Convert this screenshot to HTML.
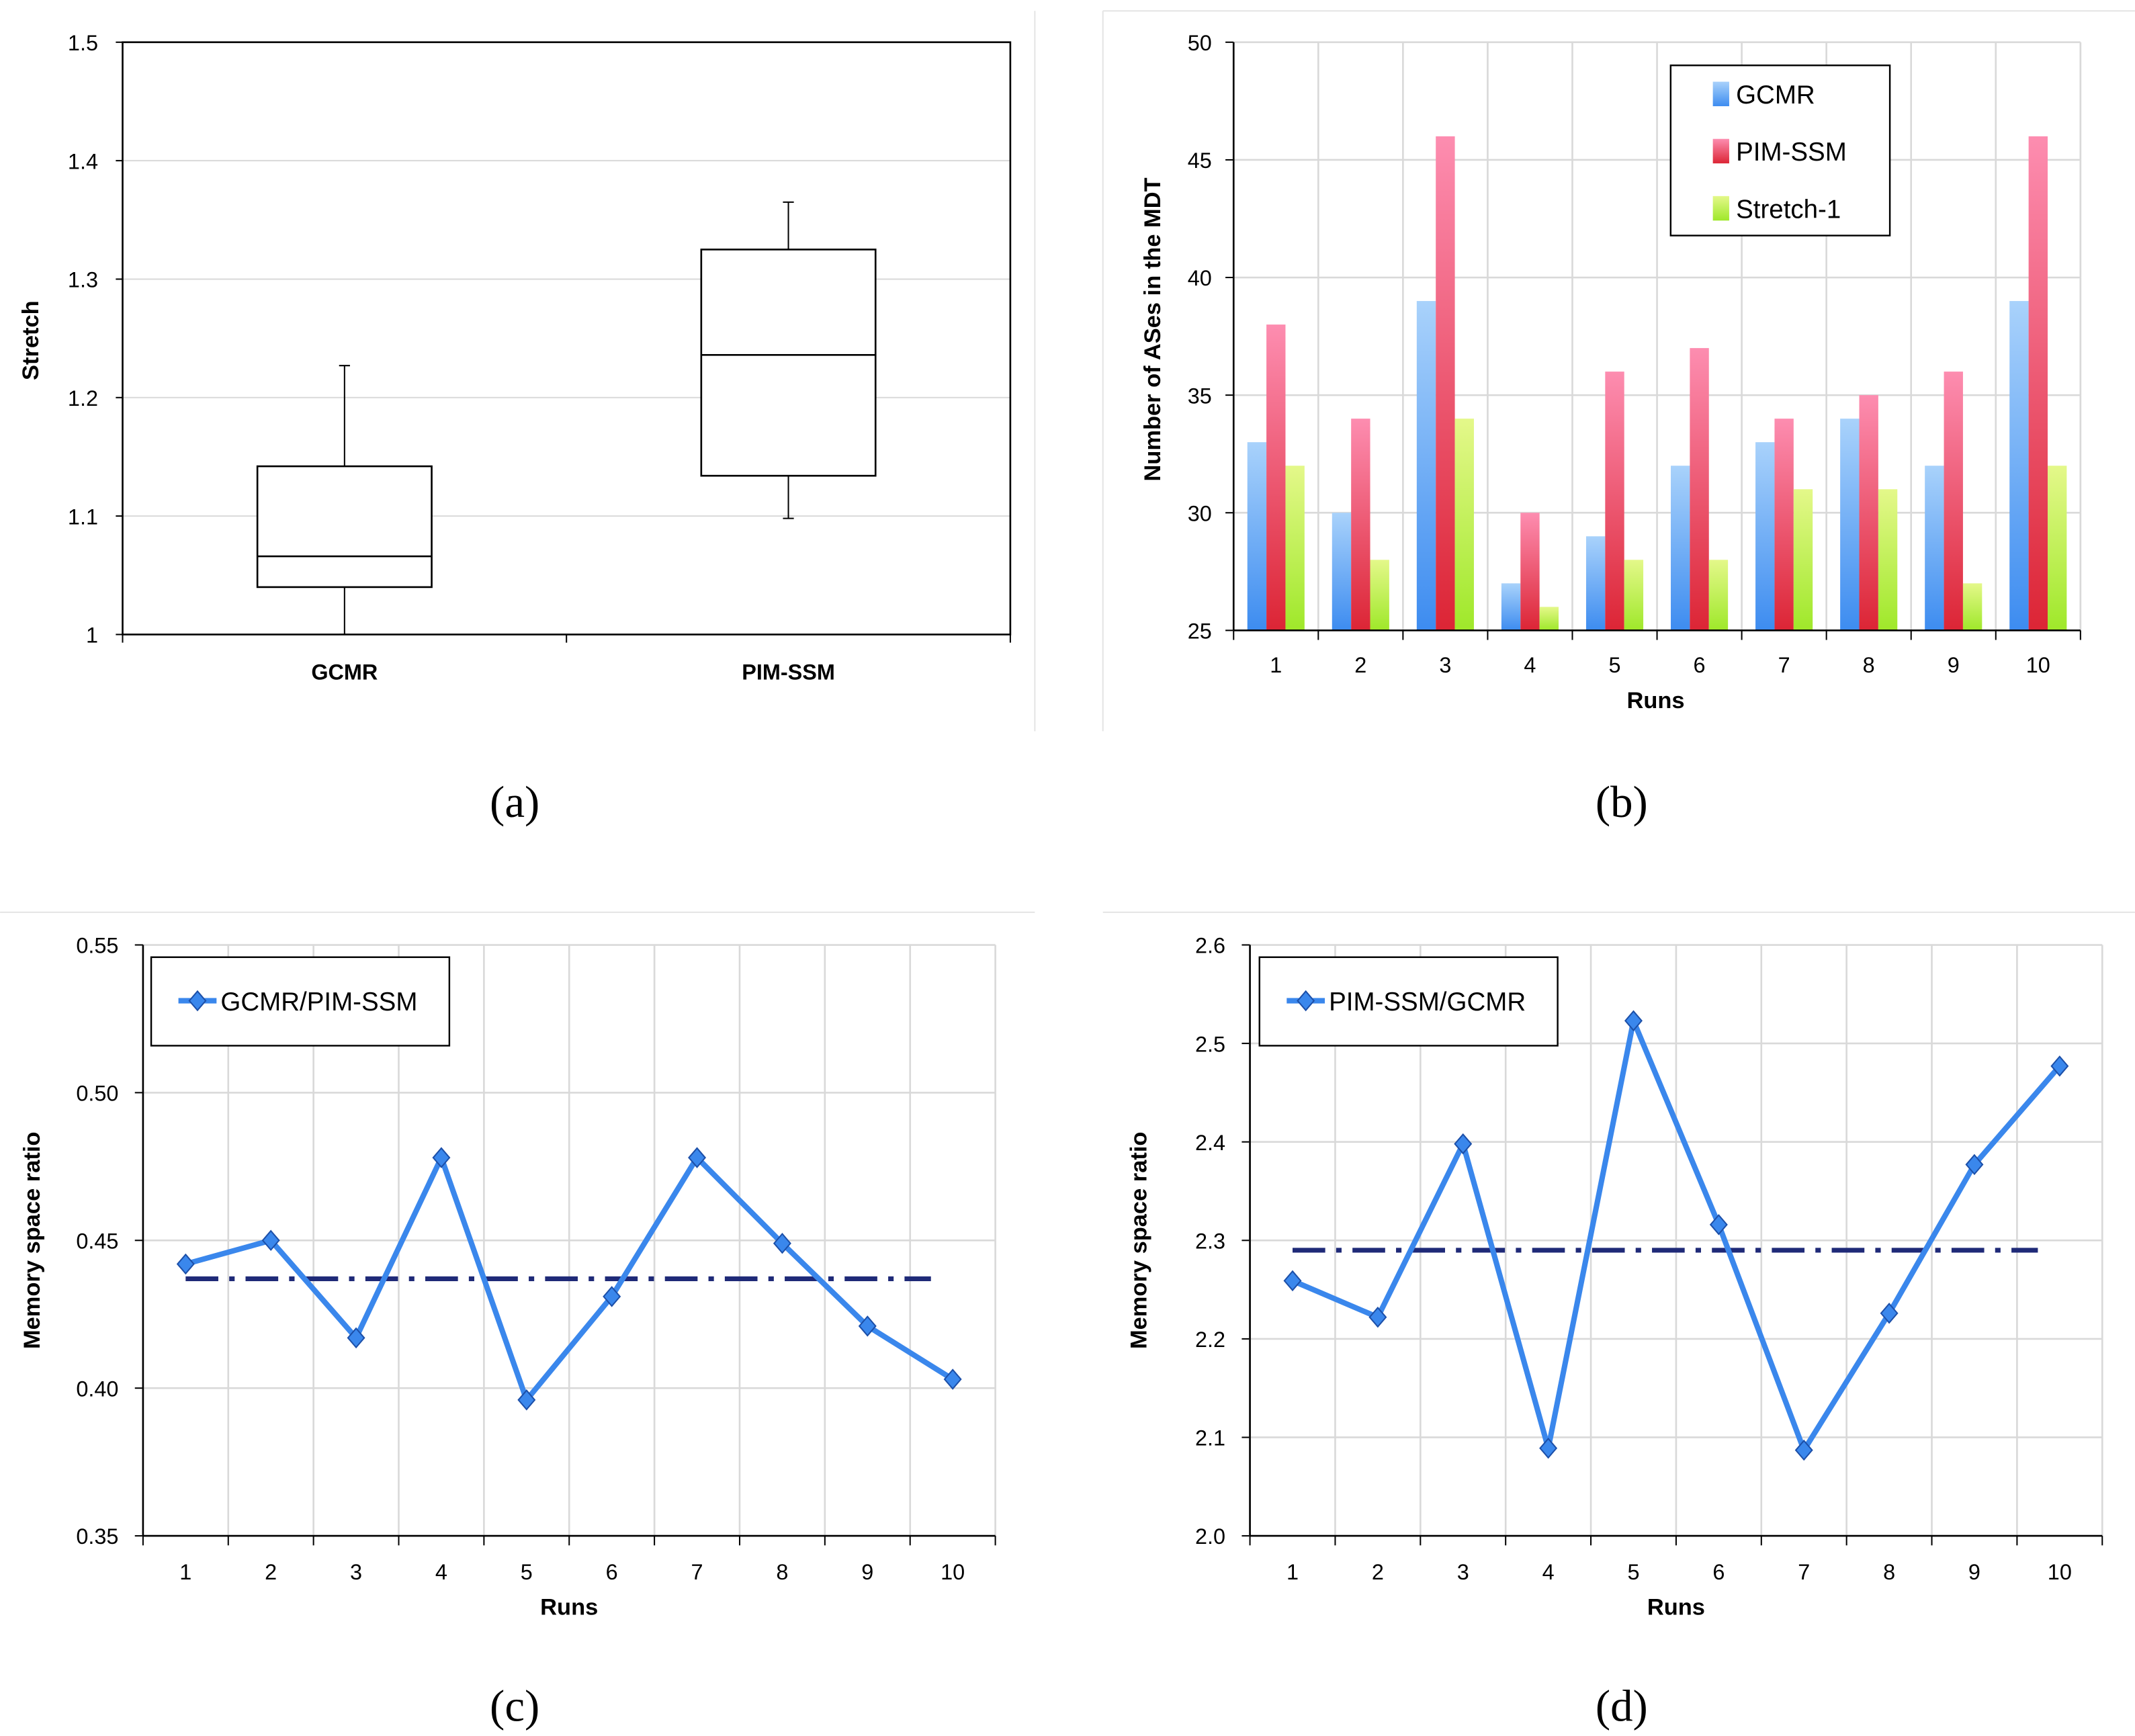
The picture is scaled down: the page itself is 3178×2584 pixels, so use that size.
<!DOCTYPE html>
<html><head><meta charset="utf-8"><style>
html,body{margin:0;padding:0;background:#fff}
svg{display:block}
text{font-family:"Liberation Sans",sans-serif}
text.cap{font-family:"Liberation Serif",serif}
</style></head><body>
<svg id="s" width="3178" height="2584" viewBox="0 0 1568 1275" xmlns="http://www.w3.org/2000/svg">
<defs>
<linearGradient id="gB" x1="0" y1="0" x2="0" y2="1"><stop offset="0" stop-color="#a9d2fb"/><stop offset="1" stop-color="#3d8cf0"/></linearGradient>
<linearGradient id="gP" x1="0" y1="0" x2="0" y2="1"><stop offset="0" stop-color="#fd8db0"/><stop offset="1" stop-color="#dc2535"/></linearGradient>
<linearGradient id="gG" x1="0" y1="0" x2="0" y2="1"><stop offset="0" stop-color="#e4f88a"/><stop offset="1" stop-color="#9fe82a"/></linearGradient>
</defs>
<g id="frames" stroke="#e4e4e4" stroke-width="1" fill="none">
<line x1="760" y1="8" x2="760" y2="537"/><line x1="810" y1="8" x2="1568" y2="8"/><line x1="810" y1="8" x2="810" y2="537"/>
<line x1="0" y1="670" x2="760" y2="670"/><line x1="810" y1="670" x2="1568" y2="670"/>
</g>
<g id="a"></g><g id="b"></g><g id="c"></g><g id="d"></g>
<g font-size="33" text-anchor="middle" style="font-family:'Liberation Serif',serif">
<text class="cap" x="378" y="600">(a)</text>
<text class="cap" x="1191" y="600">(b)</text>
<text class="cap" x="378" y="1264">(c)</text>
<text class="cap" x="1191" y="1264">(d)</text>
</g>
</svg>
<script>
const NS="http://www.w3.org/2000/svg";
function el(p,t,a,txt){const e=document.createElementNS(NS,t);for(const k in a)e.setAttribute(k,a[k]);if(txt!==undefined)e.textContent=txt;p.appendChild(e);return e;}

// ---- data (a) box plot
const boxCats=["GCMR","PIM-SSM"];
const boxMin=[1.0,1.098];
const boxQ1=[1.04,1.134];
const boxMed=[1.066,1.236];
const boxQ3=[1.142,1.325];
const boxMax=[1.227,1.365];
const aTicks=[1,1.1,1.2,1.3,1.4,1.5];
const aTickLabels=["1","1.1","1.2","1.3","1.4","1.5"];

// ---- data (b)
const runs=["1","2","3","4","5","6","7","8","9","10"];
const bGCMR=[33,30,39,27,29,32,33,34,32,39];
const bPIM=[38,34,46,30,36,37,34,35,36,46];
const bStretch=[32,28,34,26,28,28,31,31,27,32];
const bTicks=[25,30,35,40,45,50];

// ---- data (c)
const cVals=[0.442,0.450,0.417,0.478,0.396,0.431,0.478,0.449,0.421,0.403];
const cAvg=[0.437];
const cTicks=[0.35,0.40,0.45,0.50,0.55];
const cTickLabels=["0.35","0.40","0.45","0.50","0.55"];

// ---- data (d)
const dVals=[2.259,2.222,2.398,2.089,2.523,2.316,2.087,2.226,2.377,2.477];
const dAvg=[2.29];
const dTicks=[2.0,2.1,2.2,2.3,2.4,2.5,2.6];
const dTickLabels=["2.0","2.1","2.2","2.3","2.4","2.5","2.6"];

const GRID="#d9d9d9";
// ---- chart a
(function(){
const g=document.getElementById('a');
const x0=90,x1=742,y0=31,y1=466,lo=1,hi=1.5;
const Y=v=>y1-(v-lo)/(hi-lo)*(y1-y0);
const bw=(x1-x0)/boxCats.length;
aTicks.forEach((t,i)=>{
 if(i>0){const l=el(g,'line',{x1:x0,x2:x1,y1:Y(t),y2:Y(t),stroke:GRID});}
 el(g,'line',{x1:x0-5,x2:x0,y1:Y(t),y2:Y(t),stroke:'#000'});
 const tx=el(g,'text',{x:x0-18,y:Y(t)+6,'font-size':16,'text-anchor':'end'},aTickLabels[i]);
 
});
el(g,'rect',{x:x0,y:y0,width:x1-x0,height:y1-y0,fill:'none',stroke:'#000','stroke-width':1.3});
for(let i=0;i<=boxCats.length;i++)el(g,'line',{x1:x0+i*bw,x2:x0+i*bw,y1:y1,y2:y1+6,stroke:'#000'});
boxCats.forEach((c,i)=>{
 const cx=x0+bw*(i+.5),w=128;
 const gg=el(g,'g',{});
 
 el(gg,'line',{x1:cx,x2:cx,y1:Y(boxMin[i]),y2:Y(boxQ1[i]),stroke:'#000'});
 el(gg,'line',{x1:cx,x2:cx,y1:Y(boxQ3[i]),y2:Y(boxMax[i]),stroke:'#000'});
 el(gg,'line',{x1:cx-4,x2:cx+4,y1:Y(boxMin[i]),y2:Y(boxMin[i]),stroke:'#000'});
 el(gg,'line',{x1:cx-4,x2:cx+4,y1:Y(boxMax[i]),y2:Y(boxMax[i]),stroke:'#000'});
 el(gg,'rect',{x:cx-w/2,y:Y(boxQ3[i]),width:w,height:Y(boxQ1[i])-Y(boxQ3[i]),fill:'#fff',stroke:'#000','stroke-width':1.3});
 el(gg,'line',{x1:cx-w/2,x2:cx+w/2,y1:Y(boxMed[i]),y2:Y(boxMed[i]),stroke:'#000','stroke-width':1.3});
 const t=el(g,'text',{x:cx,y:499,'font-size':16,'font-weight':'bold','text-anchor':'middle'},c);
 
});
const yt=el(g,'text',{transform:'translate(28,250) rotate(-90)','font-size':17,'font-weight':'bold','text-anchor':'middle'},'Stretch');

})();

// ---- chart b
(function(){
const g=document.getElementById('b');
const x0=906,x1=1528,y0=31,y1=463,lo=25,hi=50;
const Y=v=>y1-(v-lo)/(hi-lo)*(y1-y0);
const cw=(x1-x0)/runs.length;
bTicks.forEach(t=>{
 const l=el(g,'line',{x1:x0,x2:x1,y1:Y(t),y2:Y(t),stroke:GRID,'stroke-width':1.3});
 el(g,'line',{x1:x0-6,x2:x0,y1:Y(t),y2:Y(t),stroke:'#000'});
 const tx=el(g,'text',{x:x0-16,y:Y(t)+6,'font-size':16,'text-anchor':'end'},String(t));
 
});
for(let i=0;i<=runs.length;i++){el(g,'line',{x1:x0+i*cw,x2:x0+i*cw,y1:y0,y2:y1,stroke:GRID,'stroke-width':1.3});el(g,'line',{x1:x0+i*cw,x2:x0+i*cw,y1:y1,y2:y1+7,stroke:'#000'});}
const series=[[bGCMR,'url(#gB)','gcmr'],[bPIM,'url(#gP)','pim-ssm'],[bStretch,'url(#gG)','stretch-1']];
const w=14;
runs.forEach((r,i)=>{
 const cx=x0+cw*(i+.5);
 series.forEach((s,j)=>{
  const v=s[0][i];
  const b=el(g,'rect',{x:cx-1.5*w+j*w,y:Y(v),width:w,height:y1-Y(v),fill:s[1]});
  
 });
 const t=el(g,'text',{x:cx,y:494,'font-size':16,'text-anchor':'middle'},r);
 
});
el(g,'line',{x1:x0,x2:x0,y1:y0,y2:y1,stroke:'#000','stroke-width':1.3});
el(g,'line',{x1:x0,x2:x1,y1:y1,y2:y1,stroke:'#000','stroke-width':1.3});
const xt=el(g,'text',{x:1216,y:520,'font-size':17,'font-weight':'bold','text-anchor':'middle'},'Runs');

const yt=el(g,'text',{transform:'translate(852,242) rotate(-90)','font-size':17,'font-weight':'bold','text-anchor':'middle'},'Number of ASes in the MDT');

const lg=el(g,'g',{});
el(lg,'rect',{x:1227,y:48,width:161,height:125,fill:'#fff',stroke:'#000','stroke-width':1.2});
const names=['GCMR','PIM-SSM','Stretch-1'];
series.forEach((s,j)=>{
 const yy=69+j*42;
 const e=el(lg,'g',{});
 el(e,'rect',{x:1258,y:yy-9,width:12,height:18,fill:s[1]});
 el(e,'text',{x:1275,y:yy+7,'font-size':19},names[j]);
});
})();

// ---- line charts
function lineChart(id,x0,x1,y0,y1,lo,hi,ticks,labels,vals,avg,legendX,name){
 const g=document.getElementById(id);
 const Y=v=>y1-(v-lo)/(hi-lo)*(y1-y0);
 const cw=(x1-x0)/vals.length;
 const X=i=>x0+cw*(i+.5);
 ticks.forEach((t,i)=>{
  const l=el(g,'line',{x1:x0,x2:x1,y1:Y(t),y2:Y(t),stroke:GRID,'stroke-width':1.3});
  el(g,'line',{x1:x0-6,x2:x0,y1:Y(t),y2:Y(t),stroke:'#000'});
  const tx=el(g,'text',{x:x0-18,y:Y(t)+6,'font-size':16,'text-anchor':'end'},labels[i]);
  
 });
 for(let i=0;i<=vals.length;i++){el(g,'line',{x1:x0+i*cw,x2:x0+i*cw,y1:y0,y2:y1,stroke:GRID,'stroke-width':1.3});el(g,'line',{x1:x0+i*cw,x2:x0+i*cw,y1:y1,y2:y1+7,stroke:'#000'});}
 el(g,'line',{x1:x0,x2:x0,y1:y0,y2:y1,stroke:'#000','stroke-width':1.3});
 el(g,'line',{x1:x0,x2:x1,y1:y1,y2:y1,stroke:'#000','stroke-width':1.3});
 runs.forEach((r,i)=>{const t=el(g,'text',{x:X(i),y:1160,'font-size':16,'text-anchor':'middle'},r);});
 const av=el(g,'line',{x1:X(0),x2:X(vals.length-1)-16,y1:Y(avg[0]),y2:Y(avg[0]),stroke:'#1f2a78','stroke-width':3.5,'stroke-dasharray':'24 8 4 8'});
 
 const pl=el(g,'polyline',{points:vals.map((v,i)=>X(i)+','+Y(v)).join(' '),fill:'none',stroke:'#3a87ec','stroke-width':4,'stroke-linejoin':'round'});
 
 vals.forEach((v,i)=>{const x=X(i),y=Y(v);const p=el(g,'polygon',{points:`${x},${y-7} ${x+6},${y} ${x},${y+7} ${x-6},${y}`,fill:'#3a87ec',stroke:'#1c4fa8','stroke-width':1});});
 const xt=el(g,'text',{x:(x0+x1)/2,y:1186,'font-size':17,'font-weight':'bold','text-anchor':'middle'},'Runs');
 
 const yt=el(g,'text',{transform:`translate(${x0-76},${(y0+y1)/2}) rotate(-90)`,'font-size':17,'font-weight':'bold','text-anchor':'middle'},'Memory space ratio');
 
 const lg=el(g,'g',{});
 el(lg,'rect',{x:legendX,y:703,width:219,height:65,fill:'#fff',stroke:'#000','stroke-width':1.2});
 el(lg,'line',{x1:legendX+20,x2:legendX+48,y1:735,y2:735,stroke:'#3a87ec','stroke-width':4});
 el(lg,'polygon',{points:`${legendX+34},728 ${legendX+40},735 ${legendX+34},742 ${legendX+28},735`,fill:'#3a87ec',stroke:'#1c4fa8'});
 el(lg,'text',{x:legendX+51,y:742,'font-size':19},name);
}
lineChart('c',105,731,694,1128,0.35,0.55,cTicks,cTickLabels,cVals,cAvg,111,'GCMR/PIM-SSM');
lineChart('d',918,1544,694,1128,2.0,2.6,dTicks,dTickLabels,dVals,dAvg,925,'PIM-SSM/GCMR');
</script>
</body></html>
